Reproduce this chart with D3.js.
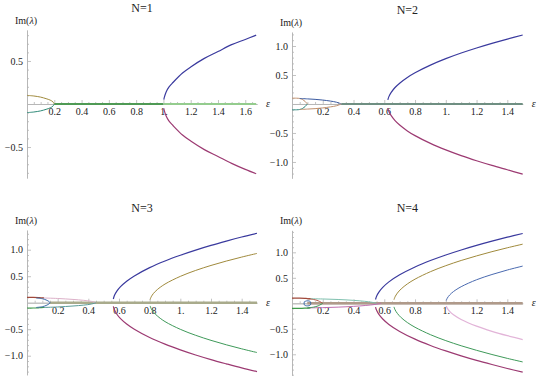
<!DOCTYPE html>
<html>
<head>
<meta charset="utf-8">
<script src="https://cdn.jsdelivr.net/npm/d3@7"></script>
<style>
  body { margin: 0; background: #fff; }
  text { font-family: "Liberation Serif", "Times New Roman", "DejaVu Serif", serif; fill: #222; }
</style>
</head>
<body>
<script>
// values, pairs of [epsilon, Im(lambda)]

// tick values and labels
const xTicksA = [0.2, 0.4, 0.6, 0.8, 1.0, 1.2, 1.4, 1.6];
const xLabelsA = ["0.2", "0.4", "0.6", "0.8", "1.", "1.2", "1.4", "1.6"];
const xTicksB = [0.2, 0.4, 0.6, 0.8, 1.0, 1.2, 1.4];
const xLabelsB = ["0.2", "0.4", "0.6", "0.8", "1.", "1.2", "1.4"];
const yTicksA = [-0.5, 0.5];
const yLabelsA = ["\u22120.5", "0.5"];
const yTicksB = [-1.0, -0.5, 0.5, 1.0];
const yLabelsB = ["\u22121.0", "\u22120.5", "0.5", "1.0"];

// N=1
const n1Up = [[1.003,0.05],[1.007,0.08],[1.02,0.14],[1.04,0.196],[1.07,0.25],[1.14,0.36],[1.2,0.43],[1.3,0.53],[1.4,0.61],[1.5,0.69],[1.6,0.75],[1.68,0.80]];
const n1Down = [[1.003,-0.05],[1.007,-0.08],[1.02,-0.14],[1.04,-0.197],[1.07,-0.25],[1.14,-0.36],[1.2,-0.43],[1.3,-0.53],[1.4,-0.61],[1.5,-0.69],[1.6,-0.76],[1.68,-0.81]];
const n1LensUp = [[0,0.1],[0.05,0.093],[0.1,0.08],[0.14,0.062],[0.17,0.045],[0.19,0.025],[0.2,0]];
const n1LensDown = [[0,-0.1],[0.05,-0.093],[0.1,-0.08],[0.14,-0.062],[0.17,-0.045],[0.19,-0.025],[0.2,0]];
const n1RealA = [[0.2,0],[1.0,0]];
const n1RealB = [[1.0,0],[1.68,0]];

// N=2
const n2Up = [[0.623,0.07],[0.63,0.127],[0.645,0.2],[0.67,0.284],[0.7,0.359],[0.75,0.458],[0.8,0.539],[0.9,0.671],[1.0,0.782],[1.1,0.879],[1.2,0.966],[1.3,1.046],[1.4,1.12],[1.5,1.19]];
const n2Down = [[0.623,-0.07],[0.63,-0.128],[0.645,-0.202],[0.67,-0.287],[0.7,-0.363],[0.75,-0.464],[0.8,-0.546],[0.9,-0.68],[1.0,-0.792],[1.1,-0.891],[1.2,-0.979],[1.3,-1.06],[1.4,-1.135],[1.5,-1.21]];
const n2InUp = [[0,0.1],[0.03,0.1],[0.05,0.095],[0.07,0.075],[0.085,0.045],[0.095,0.015],[0.1,0]];
const n2InDown = [[0,-0.1],[0.03,-0.1],[0.05,-0.095],[0.07,-0.075],[0.085,-0.045],[0.095,-0.015],[0.1,0]];
const n2OutUp = [[0.05,0.095],[0.1,0.088],[0.15,0.08],[0.2,0.068],[0.25,0.05],[0.29,0.03],[0.32,0]];
const n2OutDown = [[0.05,-0.095],[0.1,-0.088],[0.15,-0.08],[0.2,-0.068],[0.25,-0.05],[0.29,-0.03],[0.32,0]];
const n2Real = [[0.32,0],[1.5,0]];

// N=3
const n3UpA = [[0.563,0.07],[0.57,0.135],[0.585,0.214],[0.61,0.302],[0.65,0.405],[0.7,0.505],[0.8,0.662],[0.9,0.788],[1.0,0.896],[1.1,0.993],[1.2,1.081],[1.3,1.162],[1.4,1.239],[1.5,1.31]];
const n3DownA = [[0.563,-0.07],[0.57,-0.134],[0.585,-0.213],[0.61,-0.3],[0.65,-0.402],[0.7,-0.501],[0.8,-0.657],[0.9,-0.782],[1.0,-0.889],[1.1,-0.986],[1.2,-1.073],[1.3,-1.153],[1.4,-1.23],[1.5,-1.30]];
const n3UpB = [[0.803,0.06],[0.81,0.111],[0.825,0.176],[0.85,0.248],[0.9,0.352],[1.0,0.497],[1.1,0.609],[1.2,0.703],[1.3,0.786],[1.4,0.861],[1.5,0.93]];
const n3DownB = [[0.803,-0.06],[0.81,-0.112],[0.825,-0.178],[0.85,-0.25],[0.9,-0.356],[1.0,-0.502],[1.1,-0.615],[1.2,-0.71],[1.3,-0.794],[1.4,-0.87],[1.5,-0.94]];
const n3EdgeUp = [[0,0.1],[0.04,0.1],[0.08,0.095],[0.11,0.09]];
const n3EdgeDown = [[0,-0.1],[0.04,-0.1],[0.08,-0.095],[0.11,-0.09]];
const n3Loop = [[0.06,0.09],[0.1,0.075],[0.13,0.045],[0.15,0],[0.13,-0.045],[0.1,-0.075],[0.06,-0.09]];
const n3OutUp = [[0.1,0.09],[0.2,0.08],[0.3,0.062],[0.37,0.045],[0.42,0.025],[0.45,0]];
const n3OutDown = [[0.1,-0.09],[0.2,-0.08],[0.3,-0.062],[0.37,-0.045],[0.42,-0.025],[0.45,0]];
const n3Real = [[0.15,0],[1.5,0]];

// N=4
const n4UpA = [[0.543,0.075],[0.55,0.14],[0.565,0.221],[0.59,0.312],[0.63,0.42],[0.7,0.559],[0.8,0.713],[0.9,0.839],[1.0,0.948],[1.1,1.046],[1.2,1.136],[1.3,1.219],[1.4,1.297],[1.5,1.37]];
const n4DownA = [[0.543,-0.075],[0.55,-0.138],[0.565,-0.218],[0.59,-0.307],[0.63,-0.414],[0.7,-0.551],[0.8,-0.703],[0.9,-0.827],[1.0,-0.934],[1.1,-1.031],[1.2,-1.12],[1.3,-1.201],[1.4,-1.278],[1.5,-1.35]];
const n4UpB = [[0.663,0.07],[0.67,0.127],[0.685,0.2],[0.71,0.283],[0.75,0.38],[0.8,0.474],[0.9,0.62],[1.0,0.738],[1.1,0.84],[1.2,0.93],[1.3,1.013],[1.4,1.089],[1.5,1.16]];
const n4DownB = [[0.663,-0.07],[0.67,-0.126],[0.685,-0.198],[0.71,-0.281],[0.75,-0.377],[0.8,-0.47],[0.9,-0.615],[1.0,-0.732],[1.1,-0.833],[1.2,-0.922],[1.3,-1.004],[1.4,-1.08],[1.5,-1.15]];
const n4UpC = [[1.003,0.056],[1.01,0.103],[1.025,0.163],[1.05,0.231],[1.1,0.326],[1.2,0.462],[1.3,0.565],[1.4,0.653],[1.5,0.73]];
const n4DownC = [[1.003,-0.055],[1.01,-0.1],[1.025,-0.159],[1.05,-0.225],[1.1,-0.317],[1.2,-0.449],[1.3,-0.55],[1.4,-0.635],[1.5,-0.71]];
const n4EdgeUp = [[0,0.1],[0.05,0.1],[0.09,0.095],[0.12,0.09]];
const n4EdgeDown = [[0,-0.1],[0.05,-0.1],[0.09,-0.095],[0.12,-0.09]];
const n4InUp = [[0.1,0.09],[0.14,0.075],[0.17,0.05],[0.2,0]];
const n4InDown = [[0.1,-0.09],[0.14,-0.075],[0.17,-0.05],[0.2,0]];
const n4Loop = [[0.08,0.03],[0.1,0.05],[0.12,0.03],[0.12,-0.03],[0.1,-0.05],[0.08,-0.03],[0.08,0.03]];
const n4OutUp = [[0.1,0.09],[0.2,0.085],[0.3,0.075],[0.4,0.058],[0.47,0.04],[0.52,0.02],[0.55,0]];
const n4OutDown = [[0.1,-0.09],[0.2,-0.085],[0.3,-0.075],[0.4,-0.06],[0.48,-0.042],[0.54,-0.022],[0.58,0]];
const n4Real = [[0.1,0],[1.5,0]];

// panel layout and styling
const panels = [
  { title: "N=1", left: 27, right: 257, zero: 104, xMax: 1.686, yDom: [-0.86, 0.86], yRange: [178, 30],
    xTicks: xTicksA, xLabels: xLabelsA, yTicks: yTicksA, yLabels: yLabelsA,
    curves: [
      [n1RealA, "#4f9a55", 2], [n1RealB, "#94cc8e", 2],
      [n1LensUp, "#a08a3c", 1], [n1LensDown, "#2f8a78", 1],
      [n1Up, "#3a3a9e", 1.2], [n1Down, "#9c3a72", 1.2]
    ] },
  { title: "N=2", left: 292, right: 522.7, zero: 104, xMax: 1.5, yDom: [-1.28, 1.24], yRange: [178.2, 32.1],
    xTicks: xTicksB, xLabels: xLabelsB, yTicks: yTicksB, yLabels: yLabelsB,
    curves: [
      [n2Real, "#6f8f82", 2],
      [n2InUp, "#c0906e", 1], [n2InDown, "#2f8a80", 1],
      [n2OutUp, "#3a5aa0", 1], [n2OutDown, "#c0906e", 1],
      [n2Up, "#3a3a9e", 1.2], [n2Down, "#9c3a72", 1.2]
    ] },
  { title: "N=3", left: 27, right: 257, zero: 302.7, xMax: 1.5, yDom: [-1.36, 1.37], yRange: [374.8, 230.1],
    xTicks: xTicksB, xLabels: xLabelsB, yTicks: yTicksB, yLabels: yLabelsB,
    curves: [
      [n3Real, "#a9ab8c", 2.4],
      [n3OutUp, "#dcb0c8", 1], [n3OutDown, "#5a9c98", 1],
      [n3EdgeUp, "#a0483a", 1.2], [n3EdgeDown, "#3f9a4a", 1.2],
      [n3Loop, "#3a6aa8", 1],
      [n3UpB, "#a08a3c", 1], [n3DownB, "#3f9a5a", 1],
      [n3UpA, "#3a3a9e", 1.2], [n3DownA, "#9c3a72", 1.2]
    ] },
  { title: "N=4", left: 292, right: 522.7, zero: 303.3, xMax: 1.5, yDom: [-1.41, 1.43], yRange: [375.2, 230.4],
    xTicks: xTicksB, xLabels: xLabelsB, yTicks: yTicksB, yLabels: yLabelsB,
    curves: [
      [n4Real, "#b09a8a", 2.4],
      [n4OutUp, "#7ec0ae", 1], [n4OutDown, "#c070b0", 1],
      [n4EdgeUp, "#a0483a", 1.2], [n4EdgeDown, "#3f9a4a", 1.2],
      [n4InUp, "#b05a4a", 1], [n4InDown, "#3f9a5a", 1],
      [n4Loop, "#3a6aa8", 1],
      [n4UpC, "#4a6ab0", 1], [n4DownC, "#e2b4d8", 1.3],
      [n4UpB, "#a08a3c", 1], [n4DownB, "#3f9a5a", 1],
      [n4UpA, "#3a3a9e", 1.2], [n4DownA, "#9c3a72", 1.2]
    ] }
];

const svg = d3.select("body").append("svg")
  .attr("width", 541)
  .attr("height", 384);

panels.forEach(function (p) {
  const x = d3.scaleLinear().domain([0, p.xMax]).range([p.left, p.right]);
  const y = d3.scaleLinear().domain(p.yDom).range(p.yRange);
  const g = svg.append("g");

  // minor ticks first
  const xMinor = d3.range(0.05, p.xMax, 0.05).filter(v => Math.abs(v / 0.2 - Math.round(v / 0.2)) > 0.01);
  const yMinor = d3.range(Math.ceil(p.yDom[0] * 10) / 10, p.yDom[1], 0.1)
    .filter(v => Math.abs(v) > 0.01 && Math.abs(v / 0.5 - Math.round(v / 0.5)) > 0.01);

  g.append("g").attr("transform", "translate(0," + y(0) + ")")
    .call(d3.axisBottom(x).tickValues(xMinor).tickSize(-2).tickSizeOuter(0).tickFormat(""));
  g.append("g").attr("transform", "translate(" + x(0) + ",0)")
    .call(d3.axisLeft(y).tickValues(yMinor).tickSize(-2).tickSizeOuter(0).tickFormat(""));

  g.append("g").attr("class", "xa").attr("transform", "translate(0," + y(0) + ")")
    .call(d3.axisBottom(x).tickValues(p.xTicks).tickSize(-4).tickSizeOuter(0).tickPadding(4)
      .tickFormat((d, i) => p.xLabels[i]));
  g.append("g").attr("class", "ya").attr("transform", "translate(" + x(0) + ",0)")
    .call(d3.axisLeft(y).tickValues(p.yTicks).tickSize(-4).tickSizeOuter(0).tickPadding(4)
      .tickFormat((d, i) => p.yLabels[i]));

  g.selectAll(".domain, .tick line").attr("stroke", "#b4b4b4").attr("stroke-width", 0.8);
  g.selectAll(".tick text")
    .attr("font-family", "Liberation Serif, Times New Roman, DejaVu Serif, serif")
    .attr("font-size", 10).attr("fill", "#222");

  // curves
  const line = d3.line()
    .x(d => x(d[0]))
    .y(d => y(d[1]))
    .curve(d3.curveCatmullRom.alpha(0.5));

  g.selectAll("path.curve")
    .data(p.curves)
    .enter()
    .append("path")
    .attr("class", "curve")
    .attr("d", d => line(d[0]))
    .attr("fill", "none")
    .attr("stroke", d => d[1])
    .attr("stroke-width", d => d[2]);

  // labels
  g.append("text")
    .attr("x", (p.left + p.right) / 2)
    .attr("y", p.yRange[1] - 18)
    .attr("text-anchor", "middle")
    .attr("font-size", 12)
    .text(p.title);

  const lab = g.append("text")
    .attr("x", p.left - 12)
    .attr("y", p.yRange[1] - 6)
    .attr("font-size", 10);
  lab.append("tspan").text("Im(");
  lab.append("tspan").attr("font-style", "italic").text("\u03bb");
  lab.append("tspan").text(")");

  g.append("text")
    .attr("x", p.right + 9)
    .attr("y", y(0) + 3)
    .attr("font-size", 10)
    .attr("font-style", "italic")
    .text("\u03b5");
});
</script>
</body>
</html>
